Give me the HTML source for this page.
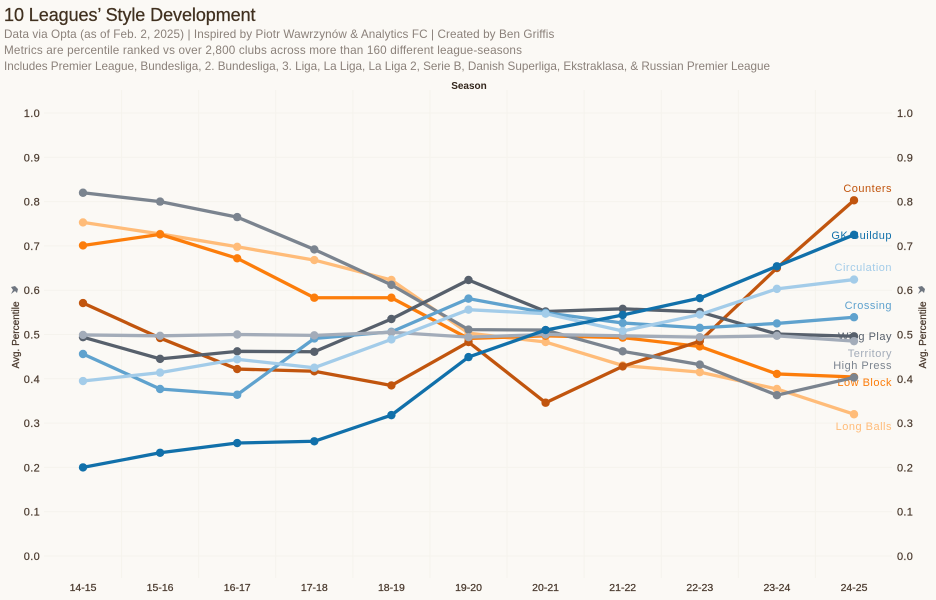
<!DOCTYPE html>
<html lang="en">
<head>
<meta charset="utf-8">
<title>10 Leagues’ Style Development</title>
<style>
html,body{margin:0;padding:0;background:#fbf9f5;}
body{width:936px;height:600px;overflow:hidden;position:relative;font-family:"Liberation Sans",sans-serif;}
svg{position:absolute;left:0;top:0;}
text{font-family:"Liberation Sans",sans-serif;}
.head{position:absolute;left:4px;white-space:nowrap;color:#8b817a;font-size:11.7px;line-height:16px;}
.title{position:absolute;left:4px;top:4px;white-space:nowrap;color:#40301f;font-size:18px;letter-spacing:-.07px;line-height:22px;-webkit-text-stroke:.25px #40301f;}
</style>
</head>
<body>
<div class="title">10 Leagues’ Style Development</div>
<div class="head" style="top:26.5px;letter-spacing:.1px">Data via Opta (as of Feb. 2, 2025) | Inspired by Piotr Wawrzynów &amp; Analytics FC | Created by Ben Griffis</div>
<div class="head" style="top:42.5px;letter-spacing:.17px">Metrics are percentile ranked vs over 2,800 clubs across more than 160 different league-seasons</div>
<div class="head" style="top:58.5px">Includes Premier League, Bundesliga, 2. Bundesliga, 3. Liga, La Liga, La Liga 2, Serie B, Danish Superliga, Ekstraklasa, &amp; Russian Premier League</div>
<svg id="chart" width="936" height="600" viewBox="0 0 936 600"></svg>
<script>
const seasons = ["14-15","15-16","16-17","17-18","18-19","19-20","20-21","21-22","22-23","23-24","24-25"];
const yTicks = [0,0.1,0.2,0.3,0.4,0.5,0.6,0.7,0.8,0.9,1.0];

const longBalls  = [0.753,0.727,0.698,0.668,0.623,0.503,0.483,0.430,0.415,0.377,0.320];
const lowBlock   = [0.701,0.726,0.672,0.583,0.583,0.491,0.497,0.493,0.473,0.411,0.404];
const counters   = [0.571,0.492,0.422,0.417,0.385,0.483,0.346,0.428,0.485,0.650,0.803];
const highPress  = [0.820,0.800,0.765,0.692,0.612,0.511,0.510,0.462,0.432,0.363,0.403];
const wingPlay   = [0.494,0.445,0.462,0.461,0.535,0.623,0.552,0.558,0.551,0.501,0.496];
const crossing   = [0.456,0.377,0.364,0.491,0.506,0.581,0.549,0.526,0.515,0.525,0.539];
const territory  = [0.499,0.497,0.500,0.498,0.505,0.494,0.500,0.497,0.494,0.497,0.485];
const circulation= [0.395,0.414,0.444,0.425,0.489,0.556,0.547,0.508,0.545,0.603,0.624];
const gkBuildup  = [0.200,0.233,0.255,0.259,0.318,0.449,0.510,0.544,0.582,0.654,0.725];

const seriesNames = ["Long Balls","Low Block","Counters","High Press","Wing Play","Crossing","Territory","Circulation","GK Buildup"];
const seriesValues = [longBalls,lowBlock,counters,highPress,wingPlay,crossing,territory,circulation,gkBuildup];
const seriesColors = ["#ffbc79","#fc7d0b","#c1550e","#7b848f","#57606c","#5fa2ce","#a3acb9","#a3cce9","#1170aa"];
const labelOrder = ["Counters","GK Buildup","Circulation","Crossing","Wing Play","Territory","High Press","Low Block","Long Balls"];

const svgNS = "http://www.w3.org/2000/svg";
const svg = document.getElementById("chart");
const xScale = i => 83 + i * 77.1;
const yScale = v => 556 - v * 443;
const slug = s => s.toLowerCase().replace(/\s+/g, "-");

function el(tag, parent) {
  const e = document.createElementNS(svgNS, tag);
  parent.appendChild(e);
  return e;
}
function txt(parent, x, y, s, anchor, size, weight, fill) {
  const t = el("text", parent);
  t.setAttribute("x", x);
  t.setAttribute("y", y);
  t.setAttribute("text-anchor", anchor);
  t.setAttribute("font-size", size);
  t.setAttribute("font-weight", weight);
  t.setAttribute("fill", fill);
  t.textContent = s;
  return t;
}

/* gridlines */
yTicks.forEach(v => {
  const g = el("line", svg);
  
  
  g.setAttribute("x1", 44);
  g.setAttribute("x2", 892);
  g.setAttribute("y1", yScale(v));
  g.setAttribute("y2", yScale(v));
  g.setAttribute("stroke", "#f5f3ed");
  g.setAttribute("stroke-width", 1);
});
seasons.slice(0, -1).forEach((s, i) => {
  const g = el("line", svg);
  
  
  g.setAttribute("x1", xScale(i + 0.5));
  g.setAttribute("x2", xScale(i + 0.5));
  g.setAttribute("y1", 90);
  g.setAttribute("y2", 578);
  g.setAttribute("stroke", "#f5f3ed");
  g.setAttribute("stroke-width", 1);
});

/* axis tick labels */
yTicks.forEach(v => {
  const l = txt(svg, 40, yScale(v) + 4, v.toFixed(1), "end", 11, "normal", "#4a3a2e");
  
  
  l.setAttribute("stroke", "#4a3a2e");
  l.setAttribute("stroke-width", 0.2);
  l.setAttribute("letter-spacing", "0.3");
  const r = txt(svg, 897, yScale(v) + 4, v.toFixed(1), "start", 11, "normal", "#4a3a2e");
  
  
  r.setAttribute("stroke", "#4a3a2e");
  r.setAttribute("stroke-width", 0.2);
  r.setAttribute("letter-spacing", "0.3");
});
seasons.forEach((s, i) => {
  const l = txt(svg, xScale(i), 591, s, "middle", 10.5, "normal", "#4a3a2e");
  
  
  l.setAttribute("stroke", "#4a3a2e");
  l.setAttribute("stroke-width", 0.25);
});

/* axis titles */
const seasonTitle = txt(svg, 469, 89, "Season", "middle", 10, "bold", "#33261c");



[15, 922].forEach((x, side) => {
  const t = txt(svg, 0, 0, "Avg. Percentile", "middle", 10, "normal", "#4a3a2e");
  
  
  t.setAttribute("stroke", "#4a3a2e");
  t.setAttribute("stroke-width", 0.25);
  t.setAttribute("transform", "translate(" + (x + 4) + " 335) rotate(-90)");
  const pin = el("path", svg);
  
  
  pin.setAttribute("d", "M-3-3 L1-4 L4-1 L3 3 L1 1 L-3 4 L-1 0 Z");
  pin.setAttribute("fill", "#6f7680");
  pin.setAttribute("transform", "translate(" + (x - 1) + " 290)");
});

/* end labels sit beneath the marks */
const labelY = {"Counters":192,"GK Buildup":239,"Circulation":271,"Crossing":309,"Wing Play":340,"Territory":357,"High Press":369,"Low Block":386,"Long Balls":430};
labelOrder.forEach(name => {
  const idx = seriesNames.indexOf(name);
  const t = txt(svg, 892, labelY[name], name, "end", 11, "normal", seriesColors[idx]);
  
  
  t.setAttribute("letter-spacing", "0.5");
});

/* series */
seriesNames.forEach((name, k) => {
  const values = seriesValues[k];
  const g = el("g", svg);
  
  
  const line = el("polyline", g);
  
  
  line.setAttribute("points", values.map((v, i) => xScale(i) + "," + yScale(v)).join(" "));
  line.setAttribute("fill", "none");
  line.setAttribute("stroke", seriesColors[k]);
  line.setAttribute("stroke-width", 3.3);
  line.setAttribute("stroke-linejoin", "round");
  values.forEach((v, i) => {
    const c = el("circle", g);
    
    
    c.setAttribute("cx", xScale(i));
    c.setAttribute("cy", yScale(v));
    c.setAttribute("r", 4.2);
    c.setAttribute("fill", seriesColors[k]);
  });
});
</script>
</body>
</html>
